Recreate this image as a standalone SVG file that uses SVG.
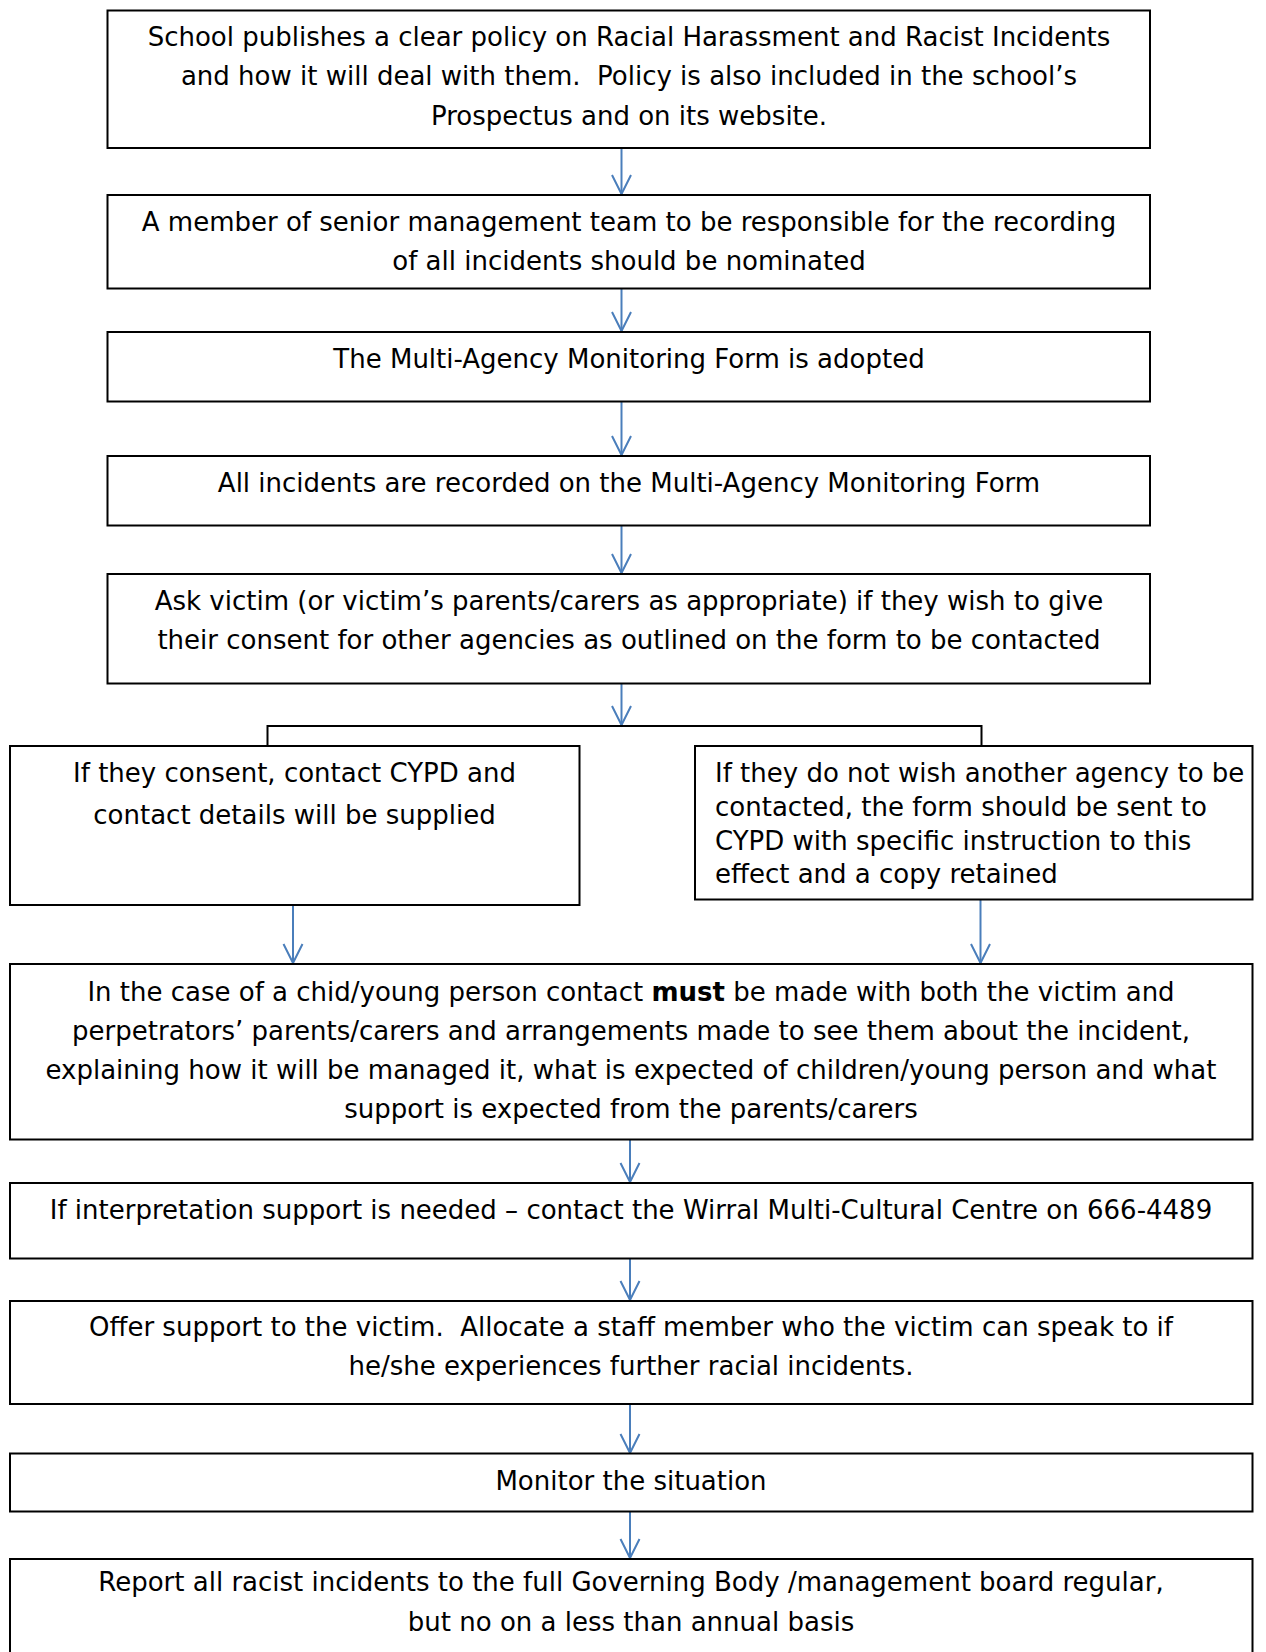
<svg xmlns="http://www.w3.org/2000/svg" width="1266" height="1652" viewBox="0 0 1266 1652">
<style>
.box{fill:#ffffff;stroke:#000000;stroke-width:2}
.t{font-family:"DejaVu Sans","Liberation Sans",sans-serif;font-size:26px;fill:#000000;white-space:pre}
.c{text-anchor:middle}
.conn{stroke:#4a7ebb;stroke-width:2;fill:none}
.br{stroke:#000000;stroke-width:2;fill:none}
</style>
<defs>
<marker id="ah" markerWidth="24" markerHeight="24" refX="21" refY="12" orient="auto" markerUnits="userSpaceOnUse" viewBox="0 0 24 24">
<path d="M2,2.5 L21,12 L2,21.5" fill="none" stroke="#4a7ebb" stroke-width="2"/>
</marker>
</defs>
<rect width="1266" height="1652" fill="#ffffff"/>
<g id="connectors">
<line class="conn" x1="621.5" y1="148" x2="621.5" y2="194" marker-end="url(#ah)"/>
<line class="conn" x1="621.5" y1="289" x2="621.5" y2="331" marker-end="url(#ah)"/>
<line class="conn" x1="621.5" y1="401" x2="621.5" y2="455" marker-end="url(#ah)"/>
<line class="conn" x1="621.5" y1="526" x2="621.5" y2="573" marker-end="url(#ah)"/>
<line class="conn" x1="621.5" y1="684" x2="621.5" y2="725" marker-end="url(#ah)"/>
<path class="br" d="M267.5,746 V726 H981.5 V746"/>
<line class="conn" x1="293" y1="905" x2="293" y2="963" marker-end="url(#ah)"/>
<line class="conn" x1="980.5" y1="900" x2="980.5" y2="963" marker-end="url(#ah)"/>
<line class="conn" x1="630" y1="1140" x2="630" y2="1182" marker-end="url(#ah)"/>
<line class="conn" x1="630" y1="1259" x2="630" y2="1300" marker-end="url(#ah)"/>
<line class="conn" x1="630" y1="1404" x2="630" y2="1453" marker-end="url(#ah)"/>
<line class="conn" x1="630" y1="1511" x2="630" y2="1558" marker-end="url(#ah)"/>
</g>
<g id="n1">
<rect class="box" x="107.5" y="10.5" width="1042.5" height="137.5"/>
<text class="t c" x="629" y="46">School publishes a clear policy on Racial Harassment and Racist Incidents</text>
<text class="t c" x="629" y="85">and how it will deal with them.  Policy is also included in the school’s</text>
<text class="t c" x="629" y="125">Prospectus and on its website.</text>
</g>
<g id="n2">
<rect class="box" x="107.5" y="195" width="1042.5" height="93.5"/>
<text class="t c" x="629" y="231">A member of senior management team to be responsible for the recording</text>
<text class="t c" x="629" y="270">of all incidents should be nominated</text>
</g>
<g id="n3">
<rect class="box" x="107.5" y="332" width="1042.5" height="69.5"/>
<text class="t c" x="629" y="368">The Multi-Agency Monitoring Form is adopted</text>
</g>
<g id="n4">
<rect class="box" x="107.5" y="456" width="1042.5" height="69.5"/>
<text class="t c" x="629" y="492">All incidents are recorded on the Multi-Agency Monitoring Form</text>
</g>
<g id="n5">
<rect class="box" x="107.5" y="574" width="1042.5" height="109.5"/>
<text class="t c" x="629" y="610">Ask victim (or victim’s parents/carers as appropriate) if they wish to give</text>
<text class="t c" x="629" y="649">their consent for other agencies as outlined on the form to be contacted</text>
</g>
<g id="n6">
<rect class="box" x="10" y="746" width="569.5" height="159"/>
<text class="t c" x="294.5" y="782">If they consent, contact CYPD and</text>
<text class="t c" x="294.5" y="824">contact details will be supplied</text>
</g>
<g id="n7">
<rect class="box" x="695" y="746" width="557.5" height="153.5"/>
<text class="t" x="715" y="782">If they do not wish another agency to be</text>
<text class="t" x="715" y="816">contacted, the form should be sent to</text>
<text class="t" x="715" y="849.5">CYPD with specific instruction to this</text>
<text class="t" x="715" y="883">effect and a copy retained</text>
</g>
<g id="n8">
<rect class="box" x="10" y="964" width="1242.5" height="175.5"/>
<text class="t c" x="631" y="1001">In the case of a chid/young person contact <tspan font-weight="bold">must</tspan> be made with both the victim and</text>
<text class="t c" x="631" y="1040">perpetrators’ parents/carers and arrangements made to see them about the incident,</text>
<text class="t c" x="631" y="1079">explaining how it will be managed it, what is expected of children/young person and what</text>
<text class="t c" x="631" y="1118">support is expected from the parents/carers</text>
</g>
<g id="n9">
<rect class="box" x="10" y="1183" width="1242.5" height="75.5"/>
<text class="t c" x="631" y="1219">If interpretation support is needed – contact the Wirral Multi-Cultural Centre on 666-4489</text>
</g>
<g id="n10">
<rect class="box" x="10" y="1301" width="1242.5" height="103"/>
<text class="t c" x="631" y="1336">Offer support to the victim.  Allocate a staff member who the victim can speak to if</text>
<text class="t c" x="631" y="1375">he/she experiences further racial incidents.</text>
</g>
<g id="n11">
<rect class="box" x="10" y="1453.5" width="1242.5" height="58"/>
<text class="t c" x="631" y="1490">Monitor the situation</text>
</g>
<g id="n12">
<rect class="box" x="10" y="1559" width="1242.5" height="110"/>
<text class="t c" x="631" y="1591">Report all racist incidents to the full Governing Body /management board regular,</text>
<text class="t c" x="631" y="1631">but no on a less than annual basis</text>
</g>
</svg>
